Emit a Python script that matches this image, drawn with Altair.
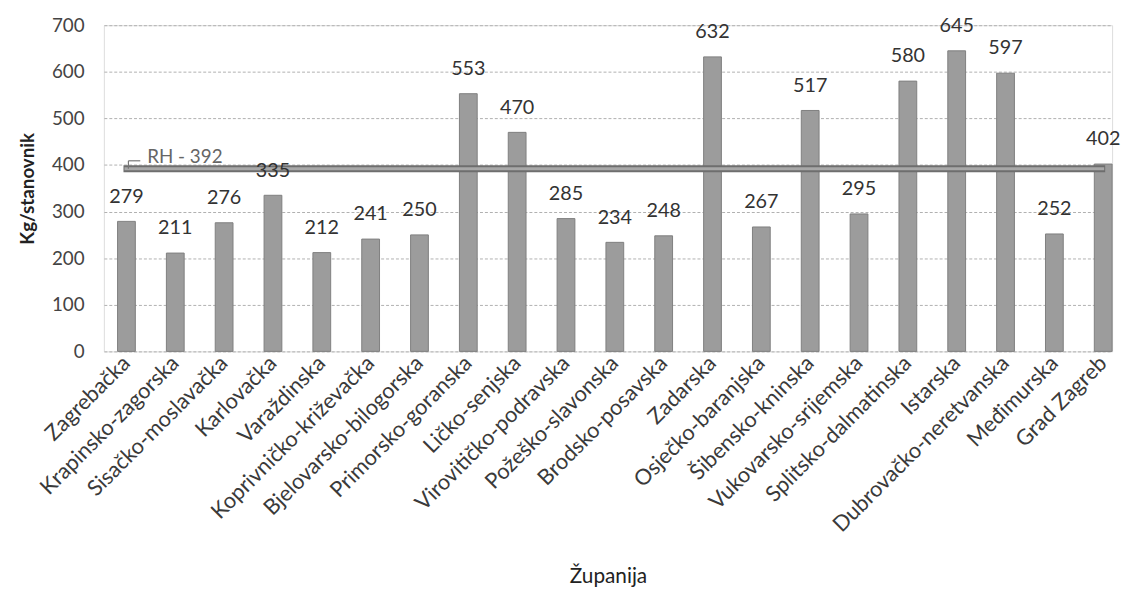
import altair as alt
import pandas as pd

zupanije = ["Zagrebačka", "Krapinsko-zagorska", "Sisačko-moslavačka", "Karlovačka",
            "Varaždinska", "Koprivničko-križevačka", "Bjelovarsko-bilogorska",
            "Primorsko-goranska", "Ličko-senjska", "Virovitičko-podravska",
            "Požeško-slavonska", "Brodsko-posavska", "Zadarska", "Osječko-baranjska",
            "Šibensko-kninska", "Vukovarsko-srijemska", "Splitsko-dalmatinska",
            "Istarska", "Dubrovačko-neretvanska", "Međimurska", "Grad Zagreb"]
vrijednosti = [279, 211, 276, 335, 212, 241, 250, 553, 470, 285, 234, 248, 632,
               267, 517, 295, 580, 645, 597, 252, 402]
rh_prosjek = 392
rh_oznaka = "RH - 392"

df = pd.DataFrame({"zupanija": zupanije, "kg": vrijednosti})
rh_df = pd.DataFrame({"x1": [zupanije[0]], "x2": [zupanije[-1]], "y": [rh_prosjek],
                      "lab": [rh_oznaka], "ylead": [rh_prosjek + 17]})

FONT = "Lato"
xscale = alt.Scale(domain=zupanije, paddingInner=0.636, paddingOuter=0.14, align=1)

x = alt.X("zupanija:N", title="Županija", scale=xscale,
          axis=alt.Axis(labelAngle=-45, labelAlign="right", labelBaseline="middle",
                        labelFontSize=22, labelColor="#3a3a3a", labelPadding=8,
                        labelLimit=0,
                        ticks=False, domain=False, grid=False,
                        titleFontSize=21, titleColor="#222", titlePadding=30,
                        titleFontWeight="normal"))
y = alt.Y("kg:Q", title="Kg/stanovnik",
          scale=alt.Scale(domain=[0, 700]),
          axis=alt.Axis(values=[0, 100, 200, 300, 400, 500, 600, 700],
                        labelFontSize=19, labelColor="#444", labelPadding=20,
                        ticks=False, domain=False, grid=True,
                        gridColor="#b0b0b0", gridDash=[3, 2], gridWidth=1,
                        titleFontSize=19, titleColor="#222", titleFontWeight="bold",
                        titlePadding=14))

def xs(field):
    return alt.X(field, type="nominal", scale=xscale)

base = alt.Chart(df)
bars = base.mark_bar(color="#9c9c9c", stroke="#808080", strokeWidth=1).encode(x=x, y=y)
labels = base.mark_text(dy=-25, fontSize=20, color="#333", font=FONT,
                        baseline="middle").encode(x=xs("zupanija"), y="kg:Q", text="kg:Q")

rh_outer = alt.Chart(rh_df).mark_rule(color="#6e6e6e", strokeWidth=7, xOffset=-3,
                                      x2Offset=2).encode(
    x=xs("x1"), x2="x2", y="y:Q")
rh_inner = alt.Chart(rh_df).mark_rule(color="#a8a8a8", strokeWidth=3, xOffset=-2,
                                      x2Offset=1).encode(
    x=xs("x1"), x2="x2", y="y:Q")
lead_v = alt.Chart(rh_df).mark_rule(color="#777", strokeWidth=1.2, xOffset=2).encode(
    x=xs("x1"), y="y:Q", y2="ylead")
lead_h = alt.Chart(rh_df).mark_rule(color="#777", strokeWidth=1.2, xOffset=2,
                                    x2Offset=14).encode(
    x=xs("x1"), x2="x1", y="ylead:Q")
rh_text = alt.Chart(rh_df).mark_text(align="left", baseline="middle", dx=21, dy=-12,
                                     fontSize=19, color="#666", font=FONT).encode(
    x=xs("x1"), y="y:Q", text="lab:N")

chart = alt.layer(bars, rh_outer, rh_inner, lead_v, lead_h, rh_text, labels).properties(
    width=1020, height=330, padding={"top": 4, "left": 10, "right": 0, "bottom": 0}
).configure_view(stroke=None).configure(font=FONT, background="white")

chart.save("out.html", embed_options={"renderer": "svg", "actions": False})
